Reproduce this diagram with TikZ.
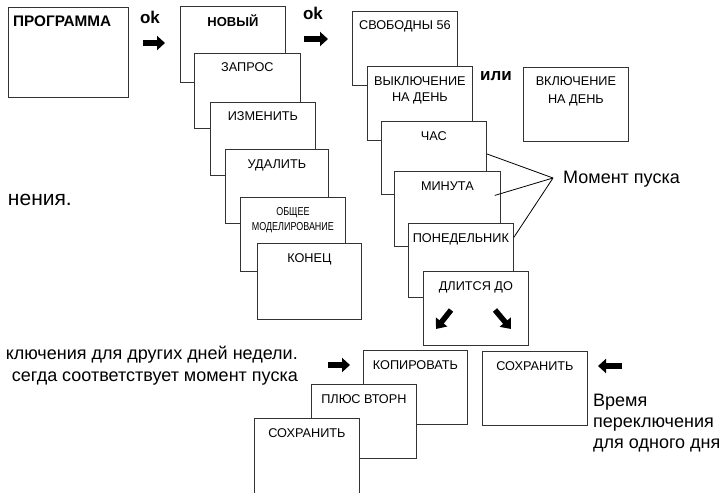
\documentclass[tikz,border=0pt]{standalone}
\usepackage{fontspec}
\setmainfont{Liberation Sans}
\usetikzlibrary{arrows.meta}
\newcommand\mybox[6]{%
  \node[box, minimum width=#4pt, minimum height=#5pt] (#1) at (#2,#3) {};
  \node[lbl] (#1t) at ([yshift=-19pt]#1.north) {#6};}
\begin{document}
\begin{tikzpicture}[x=1pt,y=-1pt,
  box/.style={draw=black!80, line width=0.8pt, fill=white, rectangle, inner sep=0pt, anchor=north west},
  lbl/.style={font=\fontsize{12.7}{17}\selectfont, inner sep=0pt, anchor=base},
  boldlbl/.style={font=\fontsize{13}{17}\selectfont\bfseries, inner sep=0pt, anchor=base},
  okl/.style={font=\fontsize{17}{20}\selectfont\bfseries, inner sep=0pt, anchor=base},
  big/.style={font=\fontsize{18}{22}\selectfont, inner sep=0pt},
  small/.style={font=\fontsize{11.5}{15}\selectfont, inner sep=0pt, anchor=base},
  fat/.style={line width=6.5pt, -{Triangle[length=8pt,width=14pt]}},
  fatd/.style={line width=5.5pt, -{Triangle[length=9pt,width=14pt]}},
  conn/.style={draw=black, line width=0.8pt}]
\useasboundingbox (0,0) rectangle (727,492);
\fill[white] (0,0) rectangle (727,492);
\clip (0,0) rectangle (727,492);

% first column
\node[box, minimum width=120pt, minimum height=90pt] (prog) at (8,7) {};
\node[boldlbl, font=\fontsize{15.3}{17}\selectfont\bfseries, anchor=base west] (progt) at (13,27) {ПРОГРАММА};

\node[okl] (ok1) at (150,24) {ok};
\coordinate (a1s) at (143,43); \coordinate (a1e) at (165,43);
\draw[fat] (a1s) -- (a1e);

\node[box, minimum width=105pt, minimum height=76pt] (nov) at (180,6) {};
\node[boldlbl] (novt) at ([yshift=-21pt]nov.north) {НОВЫЙ};
\mybox{zap}{194}{53}{106}{75}{ЗАПРОС}
\mybox{izm}{210}{102}{105}{73}{ИЗМЕНИТЬ}
\mybox{uda}{225}{149}{103}{74}{УДАЛИТЬ}
\node[box, minimum width=105pt, minimum height=74pt] (obs) at (240,197) {};
\node[small] (obst) at ([yshift=-18pt]obs.north) {\scalebox{0.78}[1]{ОБЩЕЕ}};
\node[small] (obst2) at ([yshift=-33pt]obs.north) {\scalebox{0.78}[1]{МОДЕЛИРОВАНИЕ}};
\mybox{kon}{257}{243}{104}{76}{КОНЕЦ}

\node[okl] (ok2) at (313,20) {ok};
\coordinate (a2s) at (304,39); \coordinate (a2e) at (328,39);
\draw[fat] (a2s) -- (a2e);

% second column
\mybox{svo}{352}{11}{105}{74}{СВОБОДНЫ 56}
\mybox{vyk}{367}{66}{105}{74}{ВЫКЛЮЧЕНИЕ}
\node[lbl] (vykt2) at ([yshift=-36pt]vyk.north) {НА ДЕНЬ};
\node[okl] (ili) at (496,81) {или};
\mybox{vkl}{523}{67}{105}{74}{ВКЛЮЧЕНИЕ}
\node[lbl] (vklt2) at ([yshift=-36pt]vkl.north) {НА ДЕНЬ};
\mybox{chas}{381}{121}{105}{73}{ЧАС}
\mybox{min}{394}{171}{106}{75}{МИНУТА}
\mybox{pon}{408}{223}{105}{74}{ПОНЕДЕЛЬНИК}
\mybox{dli}{423}{271}{105}{74}{ДЛИТСЯ ДО}
\coordinate (d1s) at (451,310); \coordinate (d1e) at (436,329);
\coordinate (d2s) at (495,310); \coordinate (d2e) at (511,329);
\draw[fatd] (d1s) -- (d1e);
\draw[fatd] (d2s) -- (d2e);

% start moment
\node[big, anchor=base west] (mpt) at (563,183) {Момент пуска};
\coordinate (mp) at (553,178);
\draw[conn] ([yshift=4pt]chas.east) -- (mp);
\draw[conn] ([xshift=-6pt,yshift=13.5pt]min.east) -- (mp);
\draw[conn] ([yshift=23pt]pon.east) -- (mp);

% left texts
\node[big, font=\fontsize{21}{26}\selectfont, anchor=base east] (t0) at (72,205) {нения.};
\node[big, anchor=base east] (t1) at (298,359) {ключения для других дней недели.};
\node[big, anchor=base east] (t2) at (298,381) {сегда соответствует момент пуска};

% bottom
\coordinate (a3s) at (328,365); \coordinate (a3e) at (350,365);
\draw[fat] (a3s) -- (a3e);
\mybox{kop}{363}{350}{104}{74}{КОПИРОВАТЬ}
\mybox{plus}{311}{384}{105}{74}{ПЛЮС ВТОРН}
\mybox{soxa}{254}{418}{105}{90}{СОХРАНИТЬ}
\mybox{soxb}{482}{351}{105}{74}{СОХРАНИТЬ}
\coordinate (a4s) at (622,366); \coordinate (a4e) at (598,366);
\draw[fat] (a4s) -- (a4e);
\node[big, anchor=base west] (vr1) at (593,406) {Время};
\node[big, anchor=base west] (vr2) at (593,427) {переключения};
\node[big, anchor=base west] (vr3) at (593,448) {для одного дня};
\end{tikzpicture}
\end{document}
